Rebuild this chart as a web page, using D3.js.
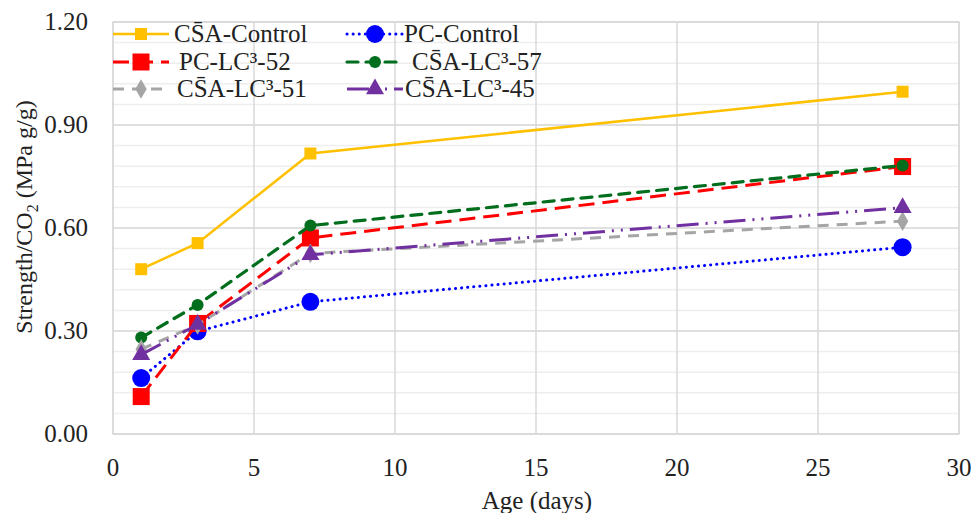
<!DOCTYPE html>
<html>
<head>
<meta charset="utf-8">
<script src="https://cdn.jsdelivr.net/npm/d3@7"></script>
<style>
  body { margin: 0; background: #fff; }
</style>
</head>
<body>
<div id="chart"></div>
<script>
"use strict";

// ages (days) and strength per CO2 for each mix
const days = [1, 3, 7, 28];
const csaControl = [0.48, 0.556, 0.817, 0.997];
const pcControl = [0.163, 0.299, 0.385, 0.544];
const pcLc52 = [0.109, 0.322, 0.571, 0.779];
const csaLc57 = [0.281, 0.376, 0.607, 0.782];
const csaLc51 = [0.247, 0.318, 0.526, 0.62];
const csaLc45 = [0.231, 0.319, 0.522, 0.659];

const xTicks = [0, 5, 10, 15, 20, 25, 30];
const yTicks = [0, 0.3, 0.6, 0.9, 1.2];

const S = "S\u0304";
const series = [
    { name: "C" + S + "A-Control", values: csaControl, color: "#FFC000", dash: null, marker: "square", size: 12, width: 2.5 },
    { name: "PC-Control", values: pcControl, color: "#0000FF", dash: "0.1 6", marker: "circle", size: 9, width: 3 },
    { name: "PC-LC\u00B3-52", values: pcLc52, color: "#FF0000", dash: "16 8", marker: "square", size: 17, width: 3 },
    { name: "C" + S + "A-LC\u00B3-57", values: csaLc57, color: "#006E1C", dash: "11 8", marker: "circle", size: 6, width: 3.2 },
    { name: "C" + S + "A-LC\u00B3-51", values: csaLc51, color: "#A5A5A5", dash: "11 8", marker: "diamond", size: 15, width: 3 },
    { name: "C" + S + "A-LC\u00B3-45", values: csaLc45, color: "#7030A0", dash: "22 7 2 7 2 7", marker: "triangle", size: 18, width: 3 }
];

const width = 975, height = 513;
const plotL = 113, plotR = 959, plotT = 22, plotB = 434;
const fontFam = "Liberation Serif, Tinos, Times New Roman, Times, DejaVu Serif, Noto Serif, serif";

const svg = d3.select("#chart").append("svg")
    .attr("width", width)
    .attr("height", height)
    .style("font-family", fontFam);

const x = d3.scaleLinear().domain([0, 30]).range([plotL, plotR]);
const y = d3.scaleLinear().domain([0, 1.2]).range([plotB, plotT]);

// minor gridlines
const minor = d3.range(0, 1.2001, 0.06);
svg.append("g").selectAll("line")
    .data(minor)
    .enter().append("line")
    .attr("x1", plotL).attr("x2", plotR)
    .attr("y1", d => y(d)).attr("y2", d => y(d))
    .attr("stroke", "#eeeeee").attr("stroke-width", 1.5);

// major gridlines
svg.append("g").selectAll("line")
    .data(yTicks)
    .enter().append("line")
    .attr("x1", plotL).attr("x2", plotR)
    .attr("y1", d => y(d)).attr("y2", d => y(d))
    .attr("stroke", "#d9d9d9").attr("stroke-width", 1.5);

svg.append("g").selectAll("line")
    .data(xTicks)
    .enter().append("line")
    .attr("x1", d => x(d)).attr("x2", d => x(d))
    .attr("y1", plotT).attr("y2", plotB)
    .attr("stroke", "#d9d9d9").attr("stroke-width", 1.5);

svg.append("rect")
    .attr("x", plotL).attr("y", plotT)
    .attr("width", plotR - plotL).attr("height", plotB - plotT)
    .attr("fill", "none").attr("stroke", "#d9d9d9").attr("stroke-width", 1.5);

// tick labels
svg.append("g").selectAll("text")
    .data(yTicks)
    .enter().append("text")
    .attr("x", 88).attr("y", d => y(d) + 8)
    .attr("text-anchor", "end")
    .attr("font-size", 25)
    .attr("fill", "#222")
    .text(d => d3.format(".2f")(d));

svg.append("g").selectAll("text")
    .data(xTicks)
    .enter().append("text")
    .attr("x", d => x(d)).attr("y", 476)
    .attr("text-anchor", "middle")
    .attr("font-size", 25)
    .attr("fill", "#222")
    .text(d => d);

svg.append("text")
    .attr("x", 537).attr("y", 509)
    .attr("text-anchor", "middle")
    .attr("font-size", 25)
    .attr("fill", "#222")
    .text("Age (days)");

const yt = svg.append("text")
    .attr("transform", "translate(32," + 217 + ") rotate(-90)")
    .attr("text-anchor", "middle")
    .attr("font-size", 24)
    .attr("fill", "#222");
yt.append("tspan").text("Strength/CO");
yt.append("tspan").attr("dy", 6).attr("font-size", 16).text("2");
yt.append("tspan").attr("dy", -6).text(" (MPa g/g)");

const symbolFor = {
    square: d3.symbolSquare,
    circle: d3.symbolCircle,
    diamond: d3.symbolDiamond,
    triangle: d3.symbolTriangle
};

const drawMarker = (g, s, cx, cy) => {
    let area;
    if (s.marker === "square") area = s.size * s.size;
    else if (s.marker === "circle") area = Math.PI * s.size * s.size;
    else if (s.marker === "diamond") area = s.size * s.size / 2;
    else area = s.size * s.size * Math.sqrt(3) / 4;
    g.append("path")
        .attr("d", d3.symbol().type(symbolFor[s.marker]).size(area)())
        .attr("transform", "translate(" + cx + "," + cy + ")")
        .attr("fill", s.color);
};

const line = d3.line()
    .x(d => x(d[0]))
    .y(d => y(d[1]));

series.forEach(s => {
    const pts = days.map((d, i) => [d, s.values[i]]);
    const g = svg.append("g");
    g.append("path")
        .datum(pts)
        .attr("d", line)
        .attr("fill", "none")
        .attr("stroke", s.color)
        .attr("stroke-width", s.width)
        .attr("stroke-linecap", s.marker === "circle" && s.dash ? "round" : "butt")
        .attr("stroke-dasharray", s.dash);
    pts.forEach(p => drawMarker(g, s, x(p[0]), y(p[1])));
});

// legend
const legendPos = [
    { lx: 113, tx: 174, y: 34 },
    { lx: 347, tx: 404, y: 34 },
    { lx: 113, tx: 179, y: 62 },
    { lx: 347, tx: 412, y: 62 },
    { lx: 113, tx: 177, y: 89 },
    { lx: 347, tx: 405, y: 89 }
];

series.forEach((s, i) => {
    const p = legendPos[i];
    const g = svg.append("g");
    g.append("line")
        .attr("x1", p.lx).attr("x2", p.lx + 56)
        .attr("y1", p.y).attr("y2", p.y)
        .attr("stroke", s.color)
        .attr("stroke-width", s.width)
        .attr("stroke-linecap", s.marker === "circle" && s.dash ? "round" : "butt")
        .attr("stroke-dasharray", s.dash);
    drawMarker(g, s, p.lx + 28, p.y);
    g.append("text")
        .attr("x", p.tx).attr("y", p.y + 8)
        .attr("font-size", 25)
        .attr("fill", "#222")
        .text(s.name);
});
</script>
</body>
</html>
